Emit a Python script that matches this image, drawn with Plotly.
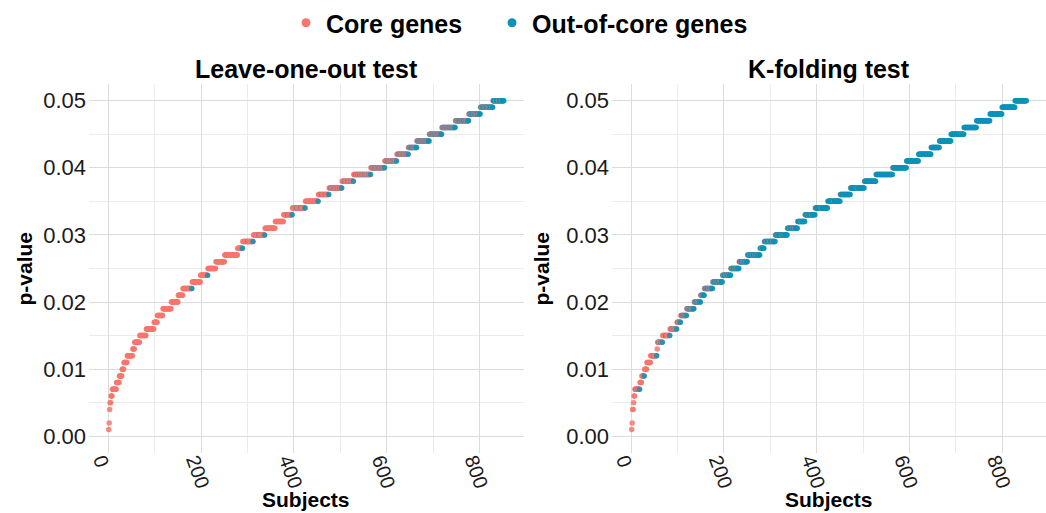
import plotly.graph_objects as go

# p-value levels present in the data (0.003 is absent)
p_levels = [0.001, 0.002, 0.004, 0.005, 0.006, 0.007, 0.008, 0.009, 0.010,
            0.011, 0.012, 0.013, 0.014, 0.015, 0.016, 0.017, 0.018, 0.019, 0.020,
            0.021, 0.022, 0.023, 0.024, 0.025, 0.026, 0.027, 0.028, 0.029, 0.030,
            0.031, 0.032, 0.033, 0.034, 0.035, 0.036, 0.037, 0.038, 0.039, 0.040,
            0.041, 0.042, 0.043, 0.044, 0.045, 0.046, 0.047, 0.048, 0.049, 0.050]

# Leave-one-out: number of subjects at each p-value level, and how many are out-of-core
loo_counts = [1, 1, 1, 2, 3, 9, 6, 6, 4,
              7, 12, 4, 11, 14, 17, 7, 12, 18, 15,
              10, 20, 18, 16, 17, 19, 28, 11, 23, 25,
              22, 18, 19, 28, 28, 23, 28, 25, 37, 30,
              26, 25, 18, 27, 27, 29, 29, 25, 27, 24]
loo_out = [0, 0, 0, 0, 0, 0, 0, 0, 0,
           0, 0, 0, 0, 0, 0, 0, 0, 0, 0,
           0, 1, 0, 1, 0, 0, 0, 1, 2, 2,
           0, 0, 2, 3, 1, 3, 6, 4, 8, 10,
           8, 8, 10, 14, 14, 15, 16, 15, 18, 20]

# K-folding
kf_counts = [1, 1, 2, 1, 2, 11, 4, 6, 5,
             8, 14, 1, 11, 16, 15, 8, 13, 16, 14,
             8, 18, 21, 18, 18, 18, 27, 9, 24, 26,
             22, 16, 22, 27, 27, 22, 30, 25, 36, 30,
             26, 27, 18, 25, 28, 27, 29, 26, 28, 25]
kf_out = [0, 0, 0, 0, 0, 3, 0, 1, 0,
          0, 2, 0, 3, 2, 4, 3, 6, 9, 8,
          5, 10, 15, 13, 14, 13, 22, 7, 20, 22,
          18, 14, 19, 25, 25, 21, 28, 24, 35, 29,
          26, 27, 18, 25, 28, 27, 29, 26, 28, 25]

categories = ["Core genes", "Out-of-core genes"]
cat_colors = {"Core genes": "#F8766D", "Out-of-core genes": "#0A93B8"}

x_ticks = [0, 200, 400, 600, 800]
y_ticks = [0.00, 0.01, 0.02, 0.03, 0.04, 0.05]
y_ticklabels = ["0.00", "0.01", "0.02", "0.03", "0.04", "0.05"]

FONT = "Liberation Sans, Arial"


def expand(counts, outs):
    xs, ys, cats = [], [], []
    subj = 1
    for p, n, m in zip(p_levels, counts, outs):
        for j in range(n):
            is_out = ((j + 1) * m) // n > (j * m) // n
            xs.append(subj)
            ys.append(p)
            cats.append(categories[1] if is_out else categories[0])
            subj += 1
    return xs, ys, cats


fig = go.Figure()

panels = [("Leave-one-out test", loo_counts, loo_out, "x", "y"),
          ("K-folding test", kf_counts, kf_out, "x2", "y2")]

for title, cnts, outs, xa, ya in panels:
    xs, ys, cats = expand(cnts, outs)
    fig.add_trace(go.Scatter(
        x=xs, y=ys, mode="markers", xaxis=xa, yaxis=ya, showlegend=False,
        marker=dict(size=5.5, color=[cat_colors[c] for c in cats], opacity=0.85,
                    line=dict(width=0)),
        hovertext=cats))

# legend entries (one legend box per category so they can be spaced like the original)
for c, lg in zip(categories, ["legend", "legend2"]):
    fig.add_trace(go.Scatter(x=[None], y=[None], mode="markers", name="<b>%s</b>" % c,
                             legend=lg, marker=dict(size=9, color=cat_colors[c])))

W, H = 1046, 513
xr = [-41.5, 894.5]
yr = [-0.0025, 0.0525]
ydom = [1 - 453 / H, 1 - 83 / H]
xdom1 = [89 / W, 523.5 / W]
xdom2 = [612 / W, 1046 / W]

grid_common = dict(showgrid=True, gridcolor="#DCDCDC", gridwidth=1.2,
                   zeroline=False, showline=False, ticks="")

for i, dom in enumerate([xdom1, xdom2]):
    suffix = "" if i == 0 else str(i + 1)
    fig.update_layout(**{
        "xaxis" + suffix: dict(domain=dom, range=xr, tickvals=x_ticks,
                               ticktext=[str(v) for v in x_ticks], tickangle=70,
                               anchor="y" + suffix,
                               ticklabelstandoff=-9, ticklabelshift=-6,
                               tickfont=dict(family=FONT, size=20, color="#1a1a1a"),
                               minor=dict(dtick=100, tick0=0, showgrid=True,
                                          gridcolor="#EBEBEB", gridwidth=0.8),
                               **grid_common),
        "yaxis" + suffix: dict(domain=ydom, range=yr, tickvals=y_ticks,
                               ticktext=y_ticklabels, anchor="x" + suffix,
                               ticklabelstandoff=2,
                               tickfont=dict(family=FONT, size=22, color="#1a1a1a"),
                               minor=dict(dtick=0.005, tick0=0, showgrid=True,
                                          gridcolor="#EBEBEB", gridwidth=0.8),
                               **grid_common),
    })

annotations = []
for i, (title, _, _, _, _) in enumerate(panels):
    dom = [xdom1, xdom2][i]
    cx = (dom[0] + dom[1]) / 2
    annotations.append(dict(text="<b>%s</b>" % title, x=cx, y=1 - 68 / H,
                            xref="paper", yref="paper", showarrow=False,
                            xanchor="center", yanchor="middle",
                            font=dict(family=FONT, size=25, color="black")))
    annotations.append(dict(text="<b>Subjects</b>", x=cx, y=1 - 499 / H,
                            xref="paper", yref="paper", showarrow=False,
                            xanchor="center", yanchor="middle",
                            font=dict(family=FONT, size=21, color="black")))
    px = 24 if i == 0 else 541
    annotations.append(dict(text="<b>p-value</b>", x=px / W, y=1 - 268 / H,
                            xref="paper", yref="paper", showarrow=False, textangle=-90,
                            xanchor="center", yanchor="middle",
                            font=dict(family=FONT, size=21, color="black")))

legend_common = dict(orientation="h", y=1 - 22 / H, xanchor="left", yanchor="middle",
                     font=dict(family=FONT, size=25, color="black"),
                     bgcolor="rgba(0,0,0,0)")

fig.update_layout(
    width=W, height=H, margin=dict(l=0, r=0, t=0, b=0),
    paper_bgcolor="white", plot_bgcolor="white",
    annotations=annotations,
    legend=dict(x=(307 - 21) / W, **legend_common),
    legend2=dict(x=(513 - 21) / W, **legend_common),
)

fig.write_html("out.html")
